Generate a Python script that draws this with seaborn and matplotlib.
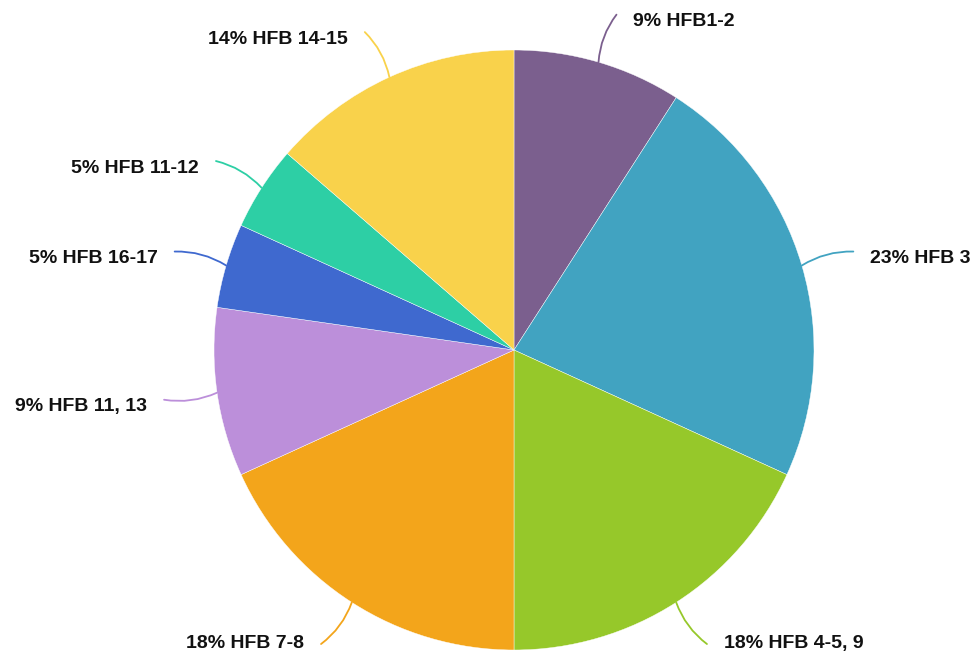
import numpy as np
import matplotlib
matplotlib.use("Agg")
import matplotlib.pyplot as plt
import seaborn as sns

# counts per group (22 in total), clockwise from 12 o'clock
labels = ["HFB1-2", "HFB 3", "HFB 4-5, 9", "HFB 7-8", "HFB 11, 13", "HFB 16-17", "HFB 11-12", "HFB 14-15"]
counts = [2, 5, 4, 4, 2, 1, 1, 3]
colors = ["#7B5F8E", "#41A3C1", "#96C82A", "#F3A51B", "#BC8FDA", "#3F69CF", "#2DCFA5", "#F9D24B"]

sns.set_theme(style="white")
plt.rcParams["font.family"] = ["Liberation Sans", "DejaVu Sans"]

fig = plt.figure(figsize=(9.76, 6.57), dpi=100)
ax = fig.add_axes([0, 0, 1, 1])

# axes in pixel units so the pie sits where it does in the original
cx, cy, R = 514, 307, 300
wedges, _ = ax.pie(counts, colors=sns.color_palette(colors), startangle=90, counterclock=False,
                   radius=R, center=(cx, cy), frame=True,
                   wedgeprops=dict(edgecolor="white", linewidth=0.3))
ax.set_xlim(0, 976)
ax.set_ylim(0, 657)
ax.set_aspect("equal")
ax.axis("off")

total = sum(counts)
for w, lab, n, col in zip(wedges, labels, counts, colors):
    ang = np.deg2rad((w.theta1 + w.theta2) / 2)
    x0, y0 = cx + R * np.cos(ang), cy + R * np.sin(ang)
    right = np.cos(ang) >= 0
    x1 = cx + 1.165 * R * np.cos(ang) + (4 if right else -4)
    y1 = cy + 1.165 * R * np.sin(ang)
    rad = 0.15 if right else -0.15
    if np.sin(ang) < 0:
        rad = -rad
    ax.annotate("", xy=(x0, y0), xytext=(x1, y1),
                arrowprops=dict(arrowstyle="-", color=col, lw=1.3, shrinkA=0, shrinkB=0,
                                connectionstyle=f"arc3,rad={rad}"))
    pct = round(100 * n / total)
    dy = 1 if np.sin(ang) < -0.8 else -7
    ax.text(x1 + (17 if right else -17), y1 + dy, f"{pct}% {lab}",
            ha="left" if right else "right", va="center",
            fontsize=14, fontweight="bold", color="#111111")

fig.savefig("out.png", dpi=100)
